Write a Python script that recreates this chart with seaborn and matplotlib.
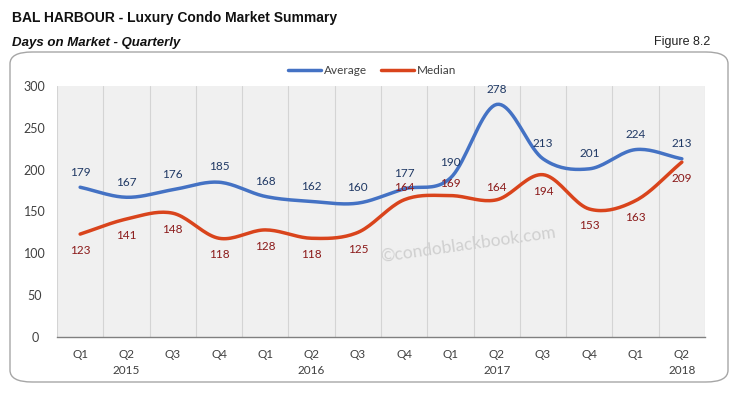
import numpy as np
import pandas as pd
import seaborn as sns
import matplotlib.pyplot as plt
from matplotlib.patches import FancyBboxPatch

quarters = ["Q1", "Q2", "Q3", "Q4", "Q1", "Q2", "Q3", "Q4",
            "Q1", "Q2", "Q3", "Q4", "Q1", "Q2"]
years = ["", "2015", "", "", "", "2016", "", "", "", "2017", "", "", "", "2018"]
average = [179, 167, 176, 185, 168, 162, 160, 177, 190, 278, 213, 201, 224, 213]
median = [123, 141, 148, 118, 128, 118, 125, 164, 169, 164, 194, 153, 163, 209]
# median labels drawn above the line for these points
median_above = [7, 8, 9]

BLUE = "#4472C4"
RED = "#D9441C"


def smooth(y, n=20):
    """Catmull-Rom path through the points (like Excel's smoothed line)."""
    y = np.asarray(y, dtype=float)
    x = np.arange(len(y), dtype=float)
    xs, ys = [], []
    for i in range(len(y) - 1):
        i0, i3 = max(i - 1, 0), min(i + 2, len(y) - 1)
        t = np.linspace(0, 1, n, endpoint=False)
        for arr, out in ((x, xs), (y, ys)):
            p0, p1, p2, p3 = arr[i0], arr[i], arr[i + 1], arr[i3]
            m1 = (p2 - p0) / 2 if i > 0 else (p2 - p1)
            m2 = (p3 - p1) / 2 if i + 1 < len(y) - 1 else (p2 - p1)
            h00 = 2 * t**3 - 3 * t**2 + 1
            h10 = t**3 - 2 * t**2 + t
            h01 = -2 * t**3 + 3 * t**2
            h11 = t**3 - t**2
            out.extend(h00 * p1 + h10 * m1 + h01 * p2 + h11 * m2)
    xs.append(x[-1])
    ys.append(y[-1])
    return np.array(xs), np.array(ys)


sns.set_style("white")
plt.rcParams["font.family"] = ["Lato", "DejaVu Sans"]

fig = plt.figure(figsize=(7.37, 3.93), dpi=100)
fig.patch.set_facecolor("white")

# rounded panel
panel = FancyBboxPatch((10 / 737, 11 / 393), 718 / 737, 330 / 393,
                       boxstyle="round,pad=0,rounding_size=0.03",
                       transform=fig.transFigure, facecolor="white",
                       edgecolor="#a6a6a6", linewidth=1.0, zorder=-1)
fig.patches.append(panel)

ax = fig.add_axes([57 / 737, 56 / 393, 648 / 737, 251 / 393])
ax.set_facecolor("#f0f0f0")

frames = []
for name, vals in (("Average", average), ("Median", median)):
    sx, sy = smooth(vals)
    frames.append(pd.DataFrame({"x": sx, "y": sy, "series": name}))
df = pd.concat(frames, ignore_index=True)

sns.lineplot(data=df, x="x", y="y", hue="series", sort=False,
             palette={"Average": BLUE, "Median": RED}, linewidth=2.5,
             ax=ax, legend=False, zorder=3)

for i, v in enumerate(average):
    ax.annotate(str(v), (i, v), xytext=(0, 7), textcoords="offset points",
                ha="center", va="bottom", fontsize=8.5, color="#1F3864")
for i, v in enumerate(median):
    if i in median_above:
        ax.annotate(str(v), (i, v), xytext=(0, 5), textcoords="offset points",
                    ha="center", va="bottom", fontsize=8.5, color="#8B1A1A")
    else:
        ax.annotate(str(v), (i, v), xytext=(0, -8), textcoords="offset points",
                    ha="center", va="top", fontsize=8.5, color="#8B1A1A")

ax.set_xlim(-0.5, len(quarters) - 0.5)
ax.set_ylim(0, 300)
ax.set_yticks(range(0, 301, 50))
ax.set_xticks(range(len(quarters)))
ax.set_xticklabels([f"{q}\n{y}" for q, y in zip(quarters, years)],
                   linespacing=1.5)
ax.set_xticks(np.arange(-0.5, len(quarters), 1), minor=True)
ax.tick_params(axis="x", which="major", length=0, pad=9,
               labelsize=8.5, labelcolor="#404040")
ax.tick_params(axis="x", which="minor", length=4, color="#808080",
               direction="out")
ax.tick_params(axis="y", length=0, pad=16, labelsize=9, labelcolor="#404040")
for lbl in ax.get_yticklabels():
    lbl.set_horizontalalignment("center")
ax.grid(axis="x", which="minor", color="#d4d4d4", linewidth=0.8)
ax.grid(axis="y", visible=False)
ax.set_xlabel("")
ax.set_ylabel("")
for s in ("top", "right", "left"):
    ax.spines[s].set_visible(False)
ax.spines["bottom"].set_color("#808080")
ax.spines["bottom"].set_linewidth(1.0)

# legend
handles = [plt.Line2D([], [], color=BLUE, lw=2.5),
           plt.Line2D([], [], color=RED, lw=2.5)]
fig.legend(handles, ["Average", "Median"], loc="center",
           bbox_to_anchor=(372 / 737, 1 - 71 / 393), ncol=2, frameon=False,
           fontsize=8.5, handlelength=2.8, handletextpad=0.2,
           columnspacing=1.2, labelcolor="#404040")

# watermark
ax.text(0.635, 0.37, "\u00a9condoblackbook.com", transform=ax.transAxes,
        ha="center", va="center", fontsize=12.5, color="#d0d0d0",
        rotation=8, zorder=2)

fig.text(12 / 737, 1 - 18 / 393, "BAL HARBOUR - Luxury Condo Market Summary",
         ha="left", va="center", fontsize=10, fontweight="bold",
         family="Liberation Sans", color="#111111")
fig.text(12 / 737, 1 - 43 / 393, "Days on Market - Quarterly",
         ha="left", va="center", fontsize=9.5, fontweight="bold",
         style="italic", family="Liberation Sans", color="#111111")
fig.text(710 / 737, 1 - 42 / 393, "Figure 8.2", ha="right", va="center",
         fontsize=9, family="Liberation Sans", color="#222222")

fig.savefig("out.png", dpi=100)
